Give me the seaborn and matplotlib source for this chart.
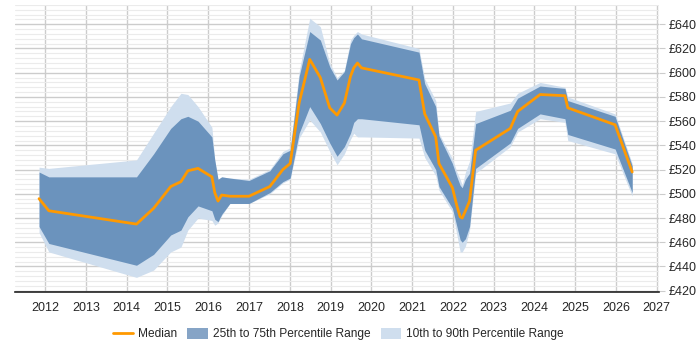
import numpy as np
import pandas as pd
import seaborn as sns
from matplotlib import pyplot as plt
from matplotlib.patches import Patch
from matplotlib.lines import Line2D
from matplotlib.ticker import MultipleLocator, FuncFormatter

# ============================================================
# DATA
# ============================================================
years = [2011.85, 2012.09, 2014.24, 2014.66, 2015.08, 2015.33, 2015.50, 2015.75,
         2016.09, 2016.16, 2016.24, 2016.33, 2016.53, 2017.00, 2017.51, 2017.83,
         2018.01, 2018.23, 2018.49, 2018.75, 2018.98, 2019.16, 2019.34, 2019.49,
         2019.57, 2019.66, 2019.76, 2021.17, 2021.31, 2021.58, 2021.66, 2021.99,
         2022.10, 2022.18, 2022.23, 2022.31, 2022.41, 2022.56, 2023.41, 2023.59,
         2024.14, 2024.75, 2024.82, 2025.98, 2026.40]

median = [496, 486, 475, 488, 506, 510, 519, 521,
          514, 501, 494, 499, 498, 498, 506, 520,
          525, 575, 611, 596, 571, 565, 575, 597,
          604, 608, 604, 594, 566, 547, 525, 505,
          490, 481, 480, 486, 494, 536, 554, 568,
          582, 581, 571, 557, 518]

p25 = [473, 459, 441, 450, 466, 470, 481, 490,
       486, 479, 477, 483, 492, 492, 501, 510,
       513, 550, 572, 558, 542, 531, 539, 550,
       559, 562, 562, 557, 536, 520, 506, 488,
       473, 462, 460, 463, 473, 521, 542, 554,
       566, 562, 549, 537, 501]

p75 = [518, 514, 514, 533, 554, 562, 564, 560,
       547, 528, 512, 514, 513, 511, 519, 533,
       536, 597, 634, 627, 605, 594, 601, 624,
       629, 632, 628, 617, 591, 572, 548, 525,
       514, 507, 505, 512, 517, 558, 569, 579,
       589, 587, 577, 564, 523]

p10 = [468, 452, 431, 437, 452, 456, 470, 480,
       478, 474, 476, 482, 492, 492, 500, 509,
       512, 546, 561, 551, 535, 524, 533, 545,
       550, 547, 547, 546, 530, 515, 503, 485,
       466, 452, 452, 457, 470, 517, 539, 551,
       562, 559, 544, 533, 498]

p90 = [522, 521, 528, 550, 572, 583, 582, 572,
       555, 528, 512, 514, 513, 512, 520, 535,
       538, 601, 645, 638, 608, 596, 602, 627,
       631, 634, 632, 620, 595, 577, 550, 529,
       518, 512, 507, 518, 527, 568, 575, 583,
       592, 588, 580, 566, 525]

df = pd.DataFrame({'year': years, 'median': median,
                   'p10': p10, 'p25': p25, 'p75': p75, 'p90': p90})

# ============================================================
# PLOT
# ============================================================
sns.set_style('white')
plt.rcParams['font.family'] = ['Liberation Sans', 'DejaVu Sans']

dark_col = '#6b93bd'
light_col = '#cfdeee'
line_col = '#ff9900'

fig = plt.figure(figsize=(7, 3.5), dpi=100)
ax = fig.add_axes([0.022, 0.166, 0.919, 0.82])

ax.fill_between(df['year'], df['p10'], df['p90'], color=light_col, lw=0, zorder=2)
ax.fill_between(df['year'], df['p25'], df['p75'], color=dark_col, lw=0, zorder=3)
sns.lineplot(data=df, x='year', y='median', color=line_col, lw=2, ax=ax, zorder=4)

ax.set_xlim(2011.27, 2027.05)
ax.set_ylim(419, 656)
ax.set_xticks(range(2012, 2028))
ax.yaxis.set_major_locator(MultipleLocator(20))
ax.yaxis.set_minor_locator(MultipleLocator(4))
ax.yaxis.set_major_formatter(FuncFormatter(lambda v, p: f'£{v:.0f}'))
ax.yaxis.tick_right()
ax.yaxis.set_label_position('right')

ax.grid(which='major', axis='both', color='#cccccc', lw=1, zorder=0)
ax.grid(which='minor', axis='y', color='#ebebeb', lw=0.8, zorder=0)
ax.set_axisbelow(True)

for s in ['top', 'left', 'right']:
    ax.spines[s].set_visible(False)
ax.spines['bottom'].set_color('#222222')
ax.spines['bottom'].set_linewidth(1.2)

ax.tick_params(axis='x', which='major', length=4, color='#222222', labelsize=9, pad=3)
ax.tick_params(axis='y', which='major', length=4, color='#cccccc', labelsize=9, pad=3)
ax.tick_params(axis='y', which='minor', length=0)
ax.set_xlabel('')
ax.set_ylabel('')

handles = [Line2D([0], [0], color=line_col, lw=2),
           Patch(facecolor='#86a4c6', edgecolor='none'),
           Patch(facecolor=light_col, edgecolor='none')]
labels = ['Median', '25th to 75th Percentile Range', '10th to 90th Percentile Range']
fig.legend(handles, labels, loc='center', bbox_to_anchor=(0.483, 0.045), ncol=3,
           frameon=False, fontsize=8.6, handlelength=1.7, handleheight=1.0,
           handletextpad=0.4, columnspacing=0.9)

plt.savefig('out.png', dpi=100)
